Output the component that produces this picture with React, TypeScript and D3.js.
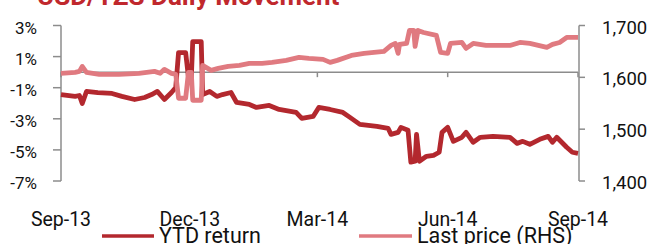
import React from "react";
import * as d3 from "d3";

const ytdReturn: [string, number][] = [
  ["2013-09-01", -1.44], ["2013-09-11", -1.56], ["2013-09-14", -1.5], ["2013-09-16", -2.01],
  ["2013-09-19", -1.24], ["2013-09-27", -1.31], ["2013-10-07", -1.37], ["2013-10-14", -1.56],
  ["2013-10-23", -1.76], ["2013-10-30", -1.63], ["2013-11-04", -1.44], ["2013-11-08", -1.24],
  ["2013-11-13", -1.76], ["2013-11-18", -1.31], ["2013-11-21", -0.99], ["2013-11-23", 1.26],
  ["2013-11-28", 1.26], ["2013-11-30", -0.35], ["2013-12-02", -0.35], ["2013-12-03", 1.96],
  ["2013-12-09", 1.96], ["2013-12-10", -1.44], ["2013-12-15", -1.24], ["2013-12-20", -1.56],
  ["2013-12-24", -1.44], ["2013-12-30", -1.31], ["2014-01-03", -1.95], ["2014-01-12", -2.08],
  ["2014-01-17", -2.27], ["2014-01-26", -2.14], ["2014-02-02", -2.4], ["2014-02-14", -2.59],
  ["2014-02-18", -2.97], ["2014-02-26", -2.85], ["2014-03-02", -2.27], ["2014-03-10", -2.4],
  ["2014-03-19", -2.59], ["2014-03-24", -2.91], ["2014-03-31", -3.36], ["2014-04-12", -3.49],
  ["2014-04-20", -3.62], ["2014-04-22", -4.0], ["2014-04-27", -3.87], ["2014-04-29", -3.55],
  ["2014-05-04", -3.74], ["2014-05-06", -5.79], ["2014-05-09", -5.73], ["2014-05-10", -4.0],
  ["2014-05-12", -5.73], ["2014-05-17", -5.41], ["2014-05-22", -5.35], ["2014-05-26", -5.15],
  ["2014-05-28", -3.87], ["2014-06-01", -3.55], ["2014-06-05", -4.45], ["2014-06-11", -4.19],
  ["2014-06-14", -3.87], ["2014-06-19", -4.51], ["2014-06-24", -4.19], ["2014-07-03", -4.13],
  ["2014-07-15", -4.19], ["2014-07-20", -4.58], ["2014-07-24", -4.45], ["2014-07-29", -4.64],
  ["2014-08-05", -4.32], ["2014-08-11", -4.13], ["2014-08-14", -4.51], ["2014-08-17", -4.19],
  ["2014-08-24", -4.83], ["2014-08-28", -5.15], ["2014-09-01", -5.22],
];

const lastPrice: [string, number][] = [
  ["2013-09-01", 1607.7], ["2013-09-11", 1609.6], ["2013-09-14", 1611.5], ["2013-09-16", 1621],
  ["2013-09-19", 1609.6], ["2013-09-28", 1605.8], ["2013-10-12", 1605.8], ["2013-10-26", 1607.7],
  ["2013-11-06", 1611.5], ["2013-11-10", 1607.7], ["2013-11-13", 1615.4], ["2013-11-18", 1607.7],
  ["2013-11-21", 1605.8], ["2013-11-23", 1559.6], ["2013-11-28", 1559.6], ["2013-11-30", 1609.6],
  ["2013-12-02", 1609.6], ["2013-12-03", 1555.8], ["2013-12-09", 1555.8], ["2013-12-10", 1623],
  ["2013-12-16", 1613.5], ["2013-12-21", 1617.3], ["2013-12-28", 1621.2], ["2014-01-05", 1623],
  ["2014-01-12", 1627], ["2014-01-21", 1627], ["2014-01-28", 1628.8], ["2014-02-07", 1632.7],
  ["2014-02-16", 1638.5], ["2014-02-23", 1636.5], ["2014-03-05", 1634.6], ["2014-03-10", 1628.8],
  ["2014-03-15", 1632.7], ["2014-03-25", 1642.3], ["2014-04-03", 1646.2], ["2014-04-17", 1650],
  ["2014-04-22", 1661.5], ["2014-04-25", 1665.4], ["2014-04-27", 1646.2], ["2014-04-28", 1663.5],
  ["2014-05-03", 1665.4], ["2014-05-05", 1690.4], ["2014-05-08", 1690.4], ["2014-05-09", 1659.6],
  ["2014-05-11", 1690.4], ["2014-05-15", 1686.5], ["2014-05-24", 1680.8], ["2014-05-27", 1648],
  ["2014-06-01", 1646.2], ["2014-06-03", 1665.4], ["2014-06-11", 1667.3], ["2014-06-14", 1655.8],
  ["2014-06-19", 1665.4], ["2014-06-28", 1661.5], ["2014-07-15", 1661.5], ["2014-07-22", 1667.3],
  ["2014-07-29", 1665.4], ["2014-08-10", 1657.7], ["2014-08-14", 1663.5], ["2014-08-19", 1667.3],
  ["2014-08-24", 1676.9], ["2014-09-01", 1676.9],
];

const leftTicks = [3, 1, -1, -3, -5, -7];
const rightTicks = [1700, 1600, 1500, 1400];
const xTickDates = ["2013-09-01", "2013-12-01", "2014-03-01", "2014-06-01", "2014-09-01"];
const xTickLabels = ["Sep-13", "Dec-13", "Mar-14", "Jun-14", "Sep-14"];
const seriesNames = ["YTD return", "Last price (RHS)"];
const title = "USD/TZS Daily Movement";

const DARK = "#b3282e";
const PINK = "#e07a80";
const AXIS = "#8c8c8c";
const FONT = "Roboto, 'Liberation Sans', Arial, sans-serif";

export default function App() {
  const parse = d3.timeParse("%Y-%m-%d");
  const x = d3
    .scaleTime()
    .domain([parse("2013-09-01")!, parse("2014-09-01")!])
    .range([61, 578]);
  const yL = d3.scaleLinear().domain([-7, 3]).range([181, 25.5]);
  const yR = d3.scaleLinear().domain([1400, 1700]).range([181, 25.5]);

  const lineL = d3
    .line<[string, number]>()
    .x((d) => x(parse(d[0])!))
    .y((d) => yL(d[1]));
  const lineR = d3
    .line<[string, number]>()
    .x((d) => x(parse(d[0])!))
    .y((d) => yR(d[1]));

  const y0 = yL(0);
  const [xMin, xMax] = x.range();

  return (
    <svg
      width={654}
      height={244}
      style={{ position: "absolute", left: 0, top: 0, background: "#fff" }}
      fontFamily={FONT}
    >
      <text x={37} y={5} fill="#c0282d" fontWeight="bold" fontSize={26}>
        {title}
      </text>

      {/* left axis */}
      <line x1={xMin} x2={xMin} y1={yL(3)} y2={yL(-7)} stroke={AXIS} strokeWidth={1.5} />
      {leftTicks.map((t) => (
        <g key={t}>
          <line x1={xMin - 8} x2={xMin} y1={yL(t)} y2={yL(t)} stroke={AXIS} strokeWidth={1.5} />
          <text x={37} y={yL(t) + 8} textAnchor="end" fontSize={17} fill="#111">
            {`${t}%`}
          </text>
        </g>
      ))}

      {/* right axis */}
      <line x1={xMax + 1} x2={xMax + 1} y1={yR(1700)} y2={yR(1400)} stroke={AXIS} strokeWidth={1.5} />
      {rightTicks.map((t) => (
        <g key={t}>
          <line x1={xMax + 1} x2={xMax + 7} y1={yR(t)} y2={yR(t)} stroke={AXIS} strokeWidth={1.5} />
          <text x={602} y={yR(t) + 8} fontSize={18.5} fill="#111">
            {d3.format(",")(t)}
          </text>
        </g>
      ))}

      {/* x axis */}
      <line x1={xMin} x2={xMax} y1={y0} y2={y0} stroke={AXIS} strokeWidth={1.5} />
      {xTickDates.map((d, i) => (
        <g key={d}>
          <line
            x1={x(parse(d)!)}
            x2={x(parse(d)!)}
            y1={y0}
            y2={y0 + 5}
            stroke={AXIS}
            strokeWidth={1.5}
          />
          <text x={x(parse(d)!)} y={226} textAnchor="middle" fontSize={19.5} fill="#111">
            {xTickLabels[i]}
          </text>
        </g>
      ))}

      {/* series */}
      <path d={lineL(ytdReturn)!} fill="none" stroke={DARK} strokeWidth={4.8} strokeLinejoin="round" />
      <path d={lineR(lastPrice)!} fill="none" stroke={PINK} strokeWidth={4.8} strokeLinejoin="round" />

      {/* legend */}
      <line x1={102} x2={154} y1={236} y2={236} stroke={DARK} strokeWidth={3.5} />
      <text x={159} y={243} fontSize={21.5} fill="#111">
        {seriesNames[0]}
      </text>
      <line x1={359} x2={412} y1={236} y2={236} stroke={PINK} strokeWidth={3.5} />
      <text x={417} y={243} fontSize={21.5} fill="#111">
        {seriesNames[1]}
      </text>
    </svg>
  );
}
